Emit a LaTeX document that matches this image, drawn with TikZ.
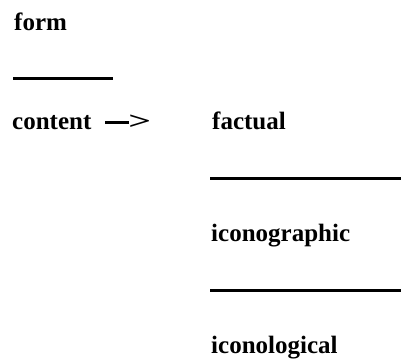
\documentclass[tikz,border=0pt]{standalone}
\usepackage{fontspec}
\setmainfont{Liberation Serif}
\begin{document}
\begin{tikzpicture}[x=1pt,y=-1pt,
  label/.style={anchor=base west,inner sep=0pt,font=\fontsize{25}{28}\selectfont\bfseries},
  rule/.style={line width=3pt}]
\useasboundingbox (0,0) rectangle (401,361);
\node[label] (form) at (14,31) {form};
\draw[rule] (13,78) -- (113,78);
\node[label] (content) at (12,129)
  {content\kern14pt\rule[5.5pt]{24pt}{3pt}\kern-1pt\scalebox{1.6}[1]{>}};
\node[label] (factual) at (212,129) {factual};
\draw[rule] (210,178) -- (401,178);
\node[label] (icgr) at (211,241) {iconographic};
\draw[rule] (210,290) -- (401,290);
\node[label] (iclo) at (211,353) {iconological};
\end{tikzpicture}
\end{document}
